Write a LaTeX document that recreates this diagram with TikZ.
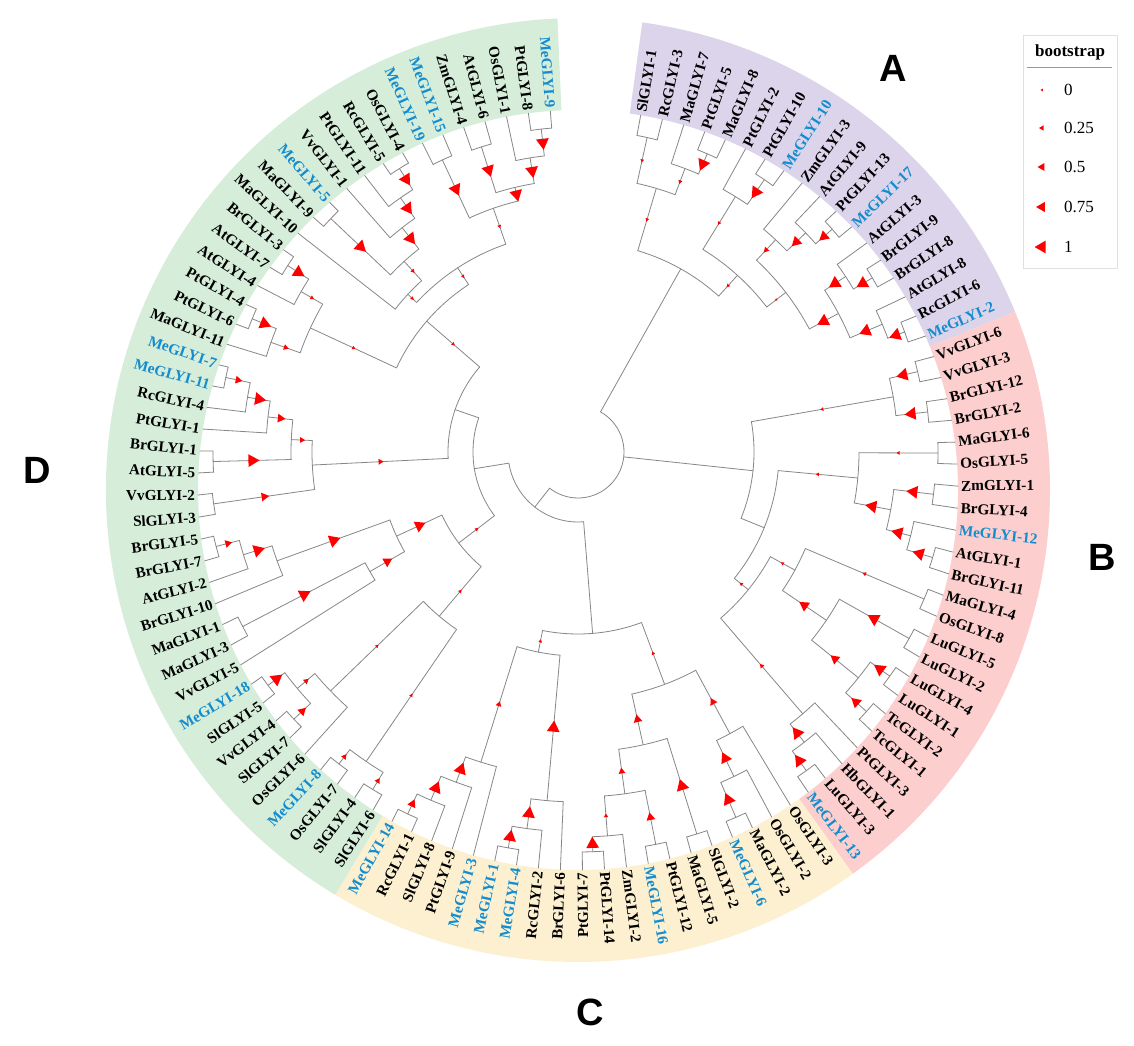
\documentclass[tikz,border=0pt]{standalone}
\usepackage{fontspec}
\setmainfont{Liberation Serif}
\newfontfamily\letterfont{Liberation Sans}
\usepackage{xcolor}
\usepackage{tikz}
\usetikzlibrary{positioning}

\definecolor{cladeA}{RGB}{219,212,235}
\definecolor{cladeB}{RGB}{252,206,206}
\definecolor{cladeC}{RGB}{252,240,208}
\definecolor{cladeD}{RGB}{213,237,217}
\definecolor{meblue}{RGB}{20,140,205}
\definecolor{branchgray}{RGB}{135,135,135}
\colorlet{bk}{black}
\colorlet{me}{meblue}

% angle, radius and bootstrap of a tree node
\newcommand\nodeset[4]{%
  \expandafter\xdef\csname phi-#1\endcsname{#2}%
  \expandafter\xdef\csname rad-#1\endcsname{#3}%
  \expandafter\xdef\csname bs-#1\endcsname{#4}}
\newcommand\getv[2]{\csname #1-#2\endcsname}
% red triangle, pointing back along #2
\newcommand\bootmark[3]{%
  \pgfmathsetmacro\bmS{1.6+5.8*#3}%
  \fill[bootmark] (#1) ++(#2+180:\bmS) -- ++(#2+30:1.732*\bmS) -- ++(#2-90:1.732*\bmS) -- cycle;}
% branch from parent #1 out to child #2
\newcommand\stem[2]{%
  \pgfmathsetmacro\stA{\getv{phi}{#2}}%
  \pgfmathsetmacro\stR{\getv{rad}{#1}}%
  \pgfmathsetmacro\stC{\getv{rad}{#2}}%
  \pgfmathsetmacro\stB{\getv{bs}{#2}}%
  \draw[branch] ([shift={(\stA:\stR)}]T) -- ([shift={(\stA:\stC)}]T);
  \ifdim\stB pt>-0.5pt
    \pgfmathsetmacro\stM{(\stR+\stC)/2}%
    \bootmark{[shift={(\stA:\stM)}]T}{\stA}{\stB}%
  \fi}
% inner node #1 joining #2 and #3 at radius #4
\newcommand\clade[5]{%
  \pgfmathsetmacro\cdA{\getv{phi}{#2}}%
  \pgfmathsetmacro\cdB{\getv{phi}{#3}}%
  \pgfmathsetmacro\cdM{(\cdA+\cdB)/2}%
  \nodeset{#1}{\cdM}{#4}{#5}%
  \coordinate (#1) at ([shift={(\cdM:#4)}]T);
  \draw[branch] ([shift={(\cdA:#4)}]T) arc[start angle=\cdA, end angle=\cdB, radius=#4];
  \stem{#1}{#2}\stem{#1}{#3}}

\begin{document}
\begin{tikzpicture}[x=1pt, y=1pt]
    % Styles
    \tikzstyle{branch} = [draw=branchgray, line width=0.8pt, line cap=round]
    \tikzstyle{bootmark} = [fill=red]
    \tikzstyle{leaf} = [font=\bfseries\fontsize{15.2}{16}\selectfont, inner sep=0pt]
    \tikzstyle{cladeletter} = [font=\letterfont\bfseries\fontsize{38}{40}\selectfont, inner sep=0pt]
    \tikzstyle{legendbox} = [draw=black!12, line width=0.8pt]
    \tikzstyle{legendtitle} = [font=\bfseries\fontsize{17}{18}\selectfont, inner sep=0pt]
    \tikzstyle{legendtext} = [font=\fontsize{17}{18}\selectfont, inner sep=0pt]

    \fill[white] (0,0) rectangle (1134,1045);
    \useasboundingbox (0,0) rectangle (1134,1045);
    \coordinate (T) at (578,593); % tree centre
    \coordinate (L) at (578,555); % label ring centre

    % Coloured ring
    \foreach \cc/\aa/\ab in {cladeA/82.17/22.2, cladeB/22.2/-54.4, cladeC/-54.4/-120.96, cladeD/-120.96/-267.5}{
        \fill[\cc] ([shift={(\aa:472)}]L) arc[start angle=\aa, end angle=\ab, radius=472]
            -- ([shift={(\ab:380)}]L) arc[start angle=\ab, end angle=\aa, radius=380] -- cycle;
    }

    % Leaves
    \foreach \nm/\cl [count=\lfi] in {SlGLYI-1/bk, RcGLYI-3/bk, MaGLYI-7/bk, PtGLYI-5/bk, MaGLYI-8/bk,
        PtGLYI-2/bk, PtGLYI-10/bk, MeGLYI-10/me, ZmGLYI-3/bk, AtGLYI-9/bk, PtGLYI-13/bk, MeGLYI-17/me,
        AtGLYI-3/bk, BrGLYI-9/bk, BrGLYI-8/bk, AtGLYI-8/bk, RcGLYI-6/bk, MeGLYI-2/me,
        VvGLYI-6/bk, VvGLYI-3/bk, BrGLYI-12/bk, BrGLYI-2/bk, MaGLYI-6/bk, OsGLYI-5/bk, ZmGLYI-1/bk,
        BrGLYI-4/bk, MeGLYI-12/me, AtGLYI-1/bk, BrGLYI-11/bk, MaGLYI-4/bk, OsGLYI-8/bk, LuGLYI-5/bk,
        LuGLYI-2/bk, LuGLYI-4/bk, LuGLYI-1/bk, TcGLYI-2/bk, TcGLYI-1/bk, PtGLYI-3/bk, HbGLYI-1/bk,
        LuGLYI-3/bk, MeGLYI-13/me,
        OsGLYI-3/bk, OsGLYI-2/bk, MaGLYI-2/bk, MeGLYI-6/me, SlGLYI-2/bk, MaGLYI-5/bk, PtGLYI-12/bk,
        MeGLYI-16/me, ZmGLYI-2/bk, PtGLYI-14/bk, PtGLYI-7/bk, BrGLYI-6/bk, RcGLYI-2/bk, MeGLYI-4/me,
        MeGLYI-1/me, MeGLYI-3/me, PtGLYI-9/bk, SlGLYI-8/bk, RcGLYI-1/bk, MeGLYI-14/me,
        SlGLYI-6/bk, SlGLYI-4/bk, OsGLYI-7/bk, MeGLYI-8/me, OsGLYI-6/bk, SlGLYI-7/bk, VvGLYI-4/bk,
        SlGLYI-5/bk, MeGLYI-18/me, VvGLYI-5/bk, MaGLYI-3/bk, MaGLYI-1/bk, BrGLYI-10/bk, AtGLYI-2/bk,
        BrGLYI-7/bk, BrGLYI-5/bk, SlGLYI-3/bk, VvGLYI-2/bk, AtGLYI-5/bk, BrGLYI-1/bk, PtGLYI-1/bk,
        RcGLYI-4/bk, MeGLYI-11/me, MeGLYI-7/me, MaGLYI-11/bk, PtGLYI-6/bk, PtGLYI-4/bk, AtGLYI-4/bk,
        AtGLYI-7/bk, BrGLYI-3/bk, MaGLYI-10/bk, MaGLYI-9/bk, MeGLYI-5/me, VvGLYI-1/bk, PtGLYI-11/bk,
        RcGLYI-5/bk, OsGLYI-4/bk, MeGLYI-19/me, MeGLYI-15/me, ZmGLYI-4/bk, AtGLYI-6/bk, OsGLYI-1/bk,
        PtGLYI-8/bk, MeGLYI-9/me}{
        \pgfmathsetmacro\lfAng{80.5-3.33*(\lfi-1)}
        \pgfmathsetmacro\lfX{380*cos(\lfAng)}
        \pgfmathsetmacro\lfY{380*sin(\lfAng)-38}
        \pgfmathsetmacro\lfPhi{atan2(\lfY,\lfX)}
        \pgfmathsetmacro\lfPhi{\lfPhi-360*round((\lfPhi-\lfAng)/360)}
        \pgfmathsetmacro\lfRad{veclen(\lfX,\lfY)}
        \nodeset{l\lfi}{\lfPhi}{\lfRad}{-1}
        \coordinate (tip\lfi) at ([shift={(\lfAng:380)}]L);
        \ifnum\lfi<52
            \node[leaf, text=\cl, anchor=west, rotate=\lfAng] (lab\lfi) at ([shift={(\lfAng:383)}]L) {\nm};
        \else
            \node[leaf, text=\cl, anchor=east, rotate=\lfAng+180] (lab\lfi) at ([shift={(\lfAng:383)}]L) {\nm};
        \fi
    }

    % Clade A
    \clade{a12}{l1}{l2}{322}{0.1}
    \clade{a45}{l4}{l5}{325}{1}
    \clade{a35}{l3}{a45}{303}{0.15}
    \clade{a15}{a12}{a35}{275}{0.1}
    \clade{a78}{l7}{l8}{330}{1}
    \clade{a68}{l6}{a78}{300}{0.1}
    \clade{b11}{l11}{l12}{338}{0.8}
    \clade{b10}{l10}{b11}{316}{0.8}
    \clade{b1}{l9}{b10}{290}{0.3}
    \clade{b14}{l14}{l15}{342}{1}
    \clade{b13}{l13}{b14}{320}{1}
    \clade{b17}{l17}{l18}{348}{1}
    \clade{b16}{l16}{b17}{330}{1}
    \clade{b2}{b13}{b16}{295}{1}
    \clade{bgrp}{b1}{b2}{262}{0}
    \clade{arest}{a68}{bgrp}{238}{0.1}
    \clade{A}{a15}{arest}{210}{-1}

    % Clade B
    \clade{b19}{l19}{l20}{349}{1}
    \clade{b21}{l21}{l22}{352}{1}
    \clade{B1}{b19}{b21}{320}{0.1}
    \clade{c23}{l23}{l24}{360}{0.1}
    \clade{c25}{l25}{l26}{358}{1}
    \clade{c28}{l28}{l29}{370}{1}
    \clade{c27}{l27}{c28}{343}{1}
    \clade{c25x}{c25}{c27}{318}{1}
    \clade{B2a}{c23}{c25x}{281}{0.1}
    \clade{c30}{l30}{l31}{376}{0.15}
    \clade{c32}{l32}{l33}{380}{1}
    \clade{c34}{l34}{l35}{384}{1}
    \clade{c36}{l36}{l37}{388}{0.8}
    \clade{c34x}{c34}{c36}{360}{0.7}
    \clade{c32x}{c32}{c34x}{300}{0.8}
    \clade{q1}{c30}{c32x}{247}{0.1}
    \clade{c40}{l40}{l41}{392}{1}
    \clade{c39}{l39}{c40}{368}{1}
    \clade{c38}{l38}{c39}{345}{0.2}
    \clade{Bpp}{q1}{c38}{219}{0.1}
    \clade{Bp}{B2a}{Bpp}{201}{-1}
    \clade{B}{B1}{Bp}{176}{-1}

    % Clade C
    \clade{c44}{l44}{l45}{398}{1}
    \clade{c43}{l43}{c44}{360}{0.9}
    \clade{cr1}{l42}{c43}{320}{0.5}
    \clade{c46}{l46}{l47}{400}{1}
    \clade{c48}{l48}{l49}{400}{0.6}
    \clade{c51}{l51}{l52}{400}{1}
    \clade{c50}{l50}{c51}{385}{0.15}
    \clade{c48x}{c48}{c50}{345}{0.4}
    \clade{cr2}{c46}{c48x}{300}{0.6}
    \clade{cr}{cr1}{cr2}{248}{0.1}
    \clade{c55}{l55}{l56}{402}{1}
    \clade{c54}{l54}{c55}{380}{1}
    \clade{c53}{l53}{c54}{350}{1}
    \clade{c60}{l60}{l61}{400}{0.6}
    \clade{c59}{l59}{c60}{378}{1}
    \clade{c58}{l58}{c59}{352}{1}
    \clade{c57}{l57}{c58}{325}{0.3}
    \clade{cl}{c53}{c57}{204}{0.1}
    \clade{C}{cr}{cl}{182}{-1}

    % Clade D
    \clade{d62}{l62}{l63}{395}{0.3}
    \clade{d64}{l64}{l65}{393}{0.3}
    \clade{d62x}{d62}{d64}{375}{0.1}
    \clade{d67}{l67}{l68}{390}{0.6}
    \clade{d69}{l69}{l70}{388}{1}
    \clade{d67x}{d67}{d69}{367}{0.3}
    \clade{d66}{l66}{d67x}{344}{0.1}
    \clade{g1}{d62x}{d66}{215}{0.1}
    \clade{d72}{l72}{l73}{378}{1}
    \clade{d71}{l71}{d72}{240}{0.7}
    \clade{d76}{l76}{l77}{374}{0.5}
    \clade{d75}{l75}{d76}{350}{1}
    \clade{d74}{l74}{d75}{320}{1}
    \clade{g2}{d71}{d74}{200}{0.9}
    \clade{dlow}{g1}{g2}{150}{0.1}
    \clade{d84}{l84}{l85}{360}{0.5}
    \clade{d83}{l83}{d84}{335}{1}
    \clade{d82}{l82}{d83}{312}{0.6}
    \clade{d80}{l80}{l81}{365}{1}
    \clade{d80x}{d80}{d82}{287}{0.3}
    \clade{d78}{l78}{l79}{368}{0.6}
    \clade{g3}{d78}{d80x}{266}{0.3}
    \clade{d87}{l87}{l88}{352}{1}
    \clade{d86}{l86}{d87}{326}{0.3}
    \clade{d90}{l90}{l91}{345}{1}
    \clade{d89}{l89}{d90}{320}{0.15}
    \clade{d86x}{d86}{d89}{295}{0.1}
    \clade{d93}{l93}{l94}{340}{1}
    \clade{d97}{l97}{l98}{335}{1}
    \clade{d96}{l96}{d97}{310}{1}
    \clade{d95}{l95}{d96}{285}{1}
    \clade{d93x}{d93}{d95}{258}{0.15}
    \clade{d92}{l92}{d93x}{232}{0.1}
    \clade{d99}{l99}{l100}{322}{1}
    \clade{d101}{l101}{l102}{320}{1}
    \clade{d104}{l104}{l105}{325}{1}
    \clade{d103}{l103}{d104}{298}{1}
    \clade{d101x}{d101}{d103}{272}{1}
    \clade{d99x}{d99}{d101x}{258}{0.1}
    \clade{ytop}{d92}{d99x}{220}{0.1}
    \clade{g4}{d86x}{ytop}{200}{0.1}
    \clade{dup}{g3}{g4}{130}{-1}
    \clade{D}{dlow}{dup}{105}{-1}

    % Root
    \clade{X}{C}{D}{70}{-1}
    \clade{root}{A}{X}{46}{-1}
    \stem{root}{B}

    % Clade letters
    \node[cladeletter] (letA) at (893,977) {A};
    \node[cladeletter] (letB) at (1102,488) {B};
    \node[cladeletter] (letC) at (590,33) {C};
    \node[cladeletter] (letD) at (37,575) {D};

    % Legend
    \draw[legendbox] (1023,777) rectangle (1117,1010);
    \node[legendtitle] (bstitle) at (1070,993) {bootstrap};
    \draw[black!40, line width=1pt] (1027,977) -- (1112,977);
    \foreach \bv/\yy [count=\lgi] in {0/955, 0.25/917, 0.5/878, 0.75/838, 1/798}{
        \coordinate (mark\lgi) at (1042,\yy);
        \bootmark{mark\lgi}{0}{\bv}
        \node[legendtext, right=22pt of mark\lgi] (val\lgi) {\bv};
    }
\end{tikzpicture}
\end{document}
